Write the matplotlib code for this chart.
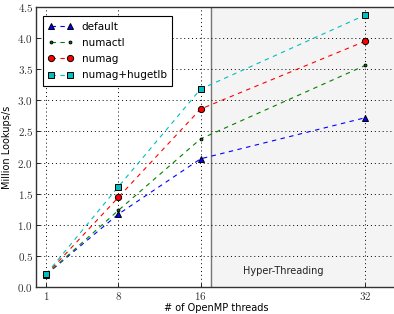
import matplotlib
matplotlib.use("Agg")
import matplotlib.pyplot as plt

threads = [1, 8, 16, 32]
default = [0.20, 1.17, 2.06, 2.72]
numactl = [0.20, 1.23, 2.38, 3.56]
numag = [0.20, 1.44, 2.86, 3.95]
hugetlb = [0.21, 1.61, 3.18, 4.37]
series_names = ["default", "numactl", "numag", "numag+hugetlb"]
xticks = [1, 8, 16, 32]
yticks = [0.0, 0.5, 1.0, 1.5, 2.0, 2.5, 3.0, 3.5, 4.0, 4.5]

plt.rcParams['mathtext.fontset'] = 'cm'
fig = plt.figure(figsize=(3.94, 3.14), dpi=100)
ax = fig.add_axes([36/394, 1-287/314, 1.0 - 36/394 + 0.005, (287-7)/314])

ax.axvspan(17, 35, color='#f4f4f4', zorder=0)
ax.axvline(17, color='#777777', lw=1.0, zorder=1)

styles = [
    dict(color=(0, 0, 1), marker='^', ms=4.5),
    dict(color=(0, 0.5, 0), marker='.', ms=4),
    dict(color=(1, 0, 0), marker='o', ms=4.5),
    dict(color=(0, 0.75, 0.75), marker='s', ms=4.5),
]
for vals, name, st in zip([default, numactl, numag, hugetlb], series_names, styles):
    ax.plot(threads, vals, linestyle='--', lw=0.8, color=st['color'], marker=st['marker'],
            ms=st['ms'], mfc=st['color'], mec='black', mew=0.7, label=name, zorder=3,
            dashes=(4, 4))

ax.set_xlim(0, 35)
ax.set_ylim(0, 4.5)
ax.set_xticks(xticks)
ax.set_xticklabels([r'$%d$' % t for t in xticks], fontsize=8, color='#333333')
ax.set_yticks(yticks)
ax.set_yticklabels([r'$%.1f$' % t for t in yticks], fontsize=8, color='#333333')
ax.tick_params(direction='in', length=3, width=0.6, pad=2)
ax.grid(True, linestyle=(0, (1, 3)), color='black', lw=0.7, zorder=1)

for s in ax.spines.values():
    s.set_linewidth(1.0)
    s.set_color('#333333')

ax.set_xlabel('# of OpenMP threads', fontsize=7, labelpad=1)
ax.set_ylabel('Million Lookups/s', fontsize=7, labelpad=4)
ax.text(24, 0.25, 'Hyper-Threading', fontsize=7, ha='center', va='center', color='#222222')

leg = ax.legend(loc='upper left', fontsize=7.5, frameon=True, fancybox=False,
                edgecolor='black', framealpha=1, borderpad=0.5, labelspacing=0.6,
                handlelength=2.4, numpoints=2, bbox_to_anchor=(0.005, 0.985))
leg.get_frame().set_linewidth(0.8)

fig.savefig('out.png', dpi=100)
